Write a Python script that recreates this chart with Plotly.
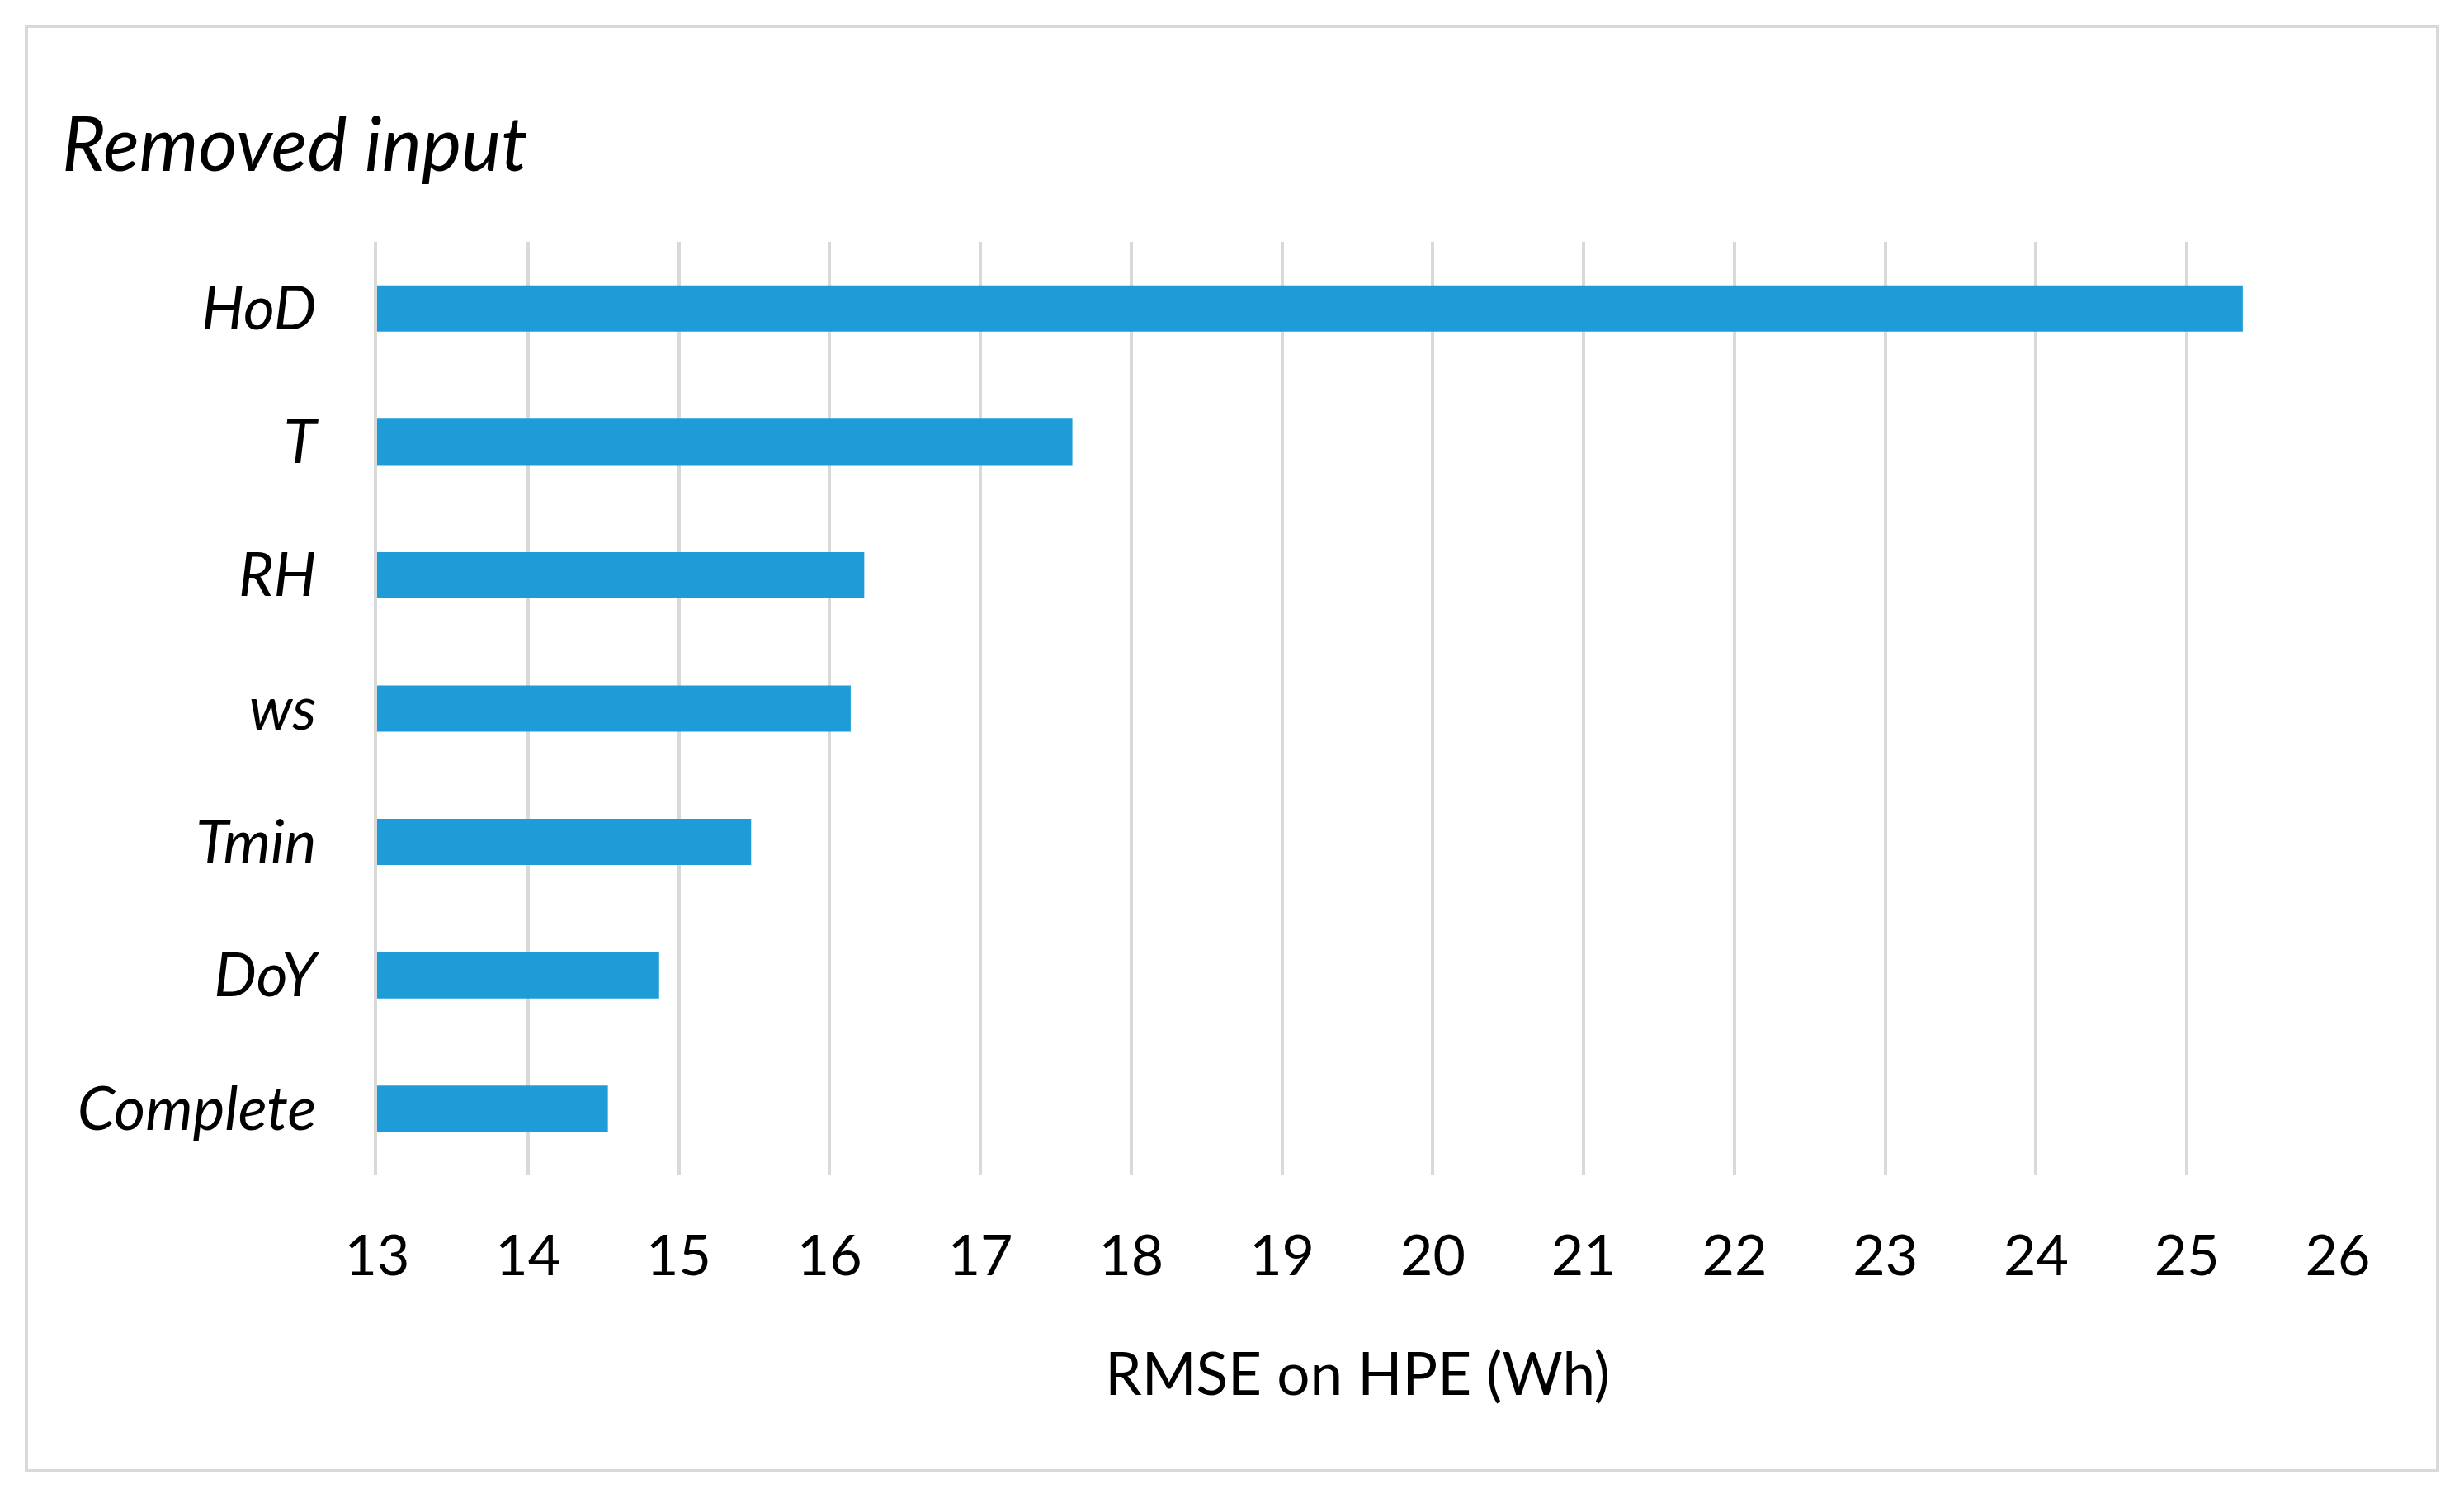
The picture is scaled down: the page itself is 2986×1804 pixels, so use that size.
import plotly.graph_objects as go

# ---- data ----
categories = ["HoD", "T", "RH", "ws", "Tmin", "DoY", "Complete"]
rmse_values = [25.37, 17.61, 16.23, 16.14, 15.48, 14.87, 14.53]
x_tick_values = list(range(13, 27))
x_tick_labels = [str(v) for v in x_tick_values]
chart_title = "Removed input"
x_axis_title = "RMSE on HPE (Wh)"

# ---- layout constants (pixels) ----
W, H = 2986, 1804
PL, PR, PT, PB = 457, 2833, 293, 1424   # plot area
BORDER = (32, 32, 2954, 1782)            # left, top, right, bottom
FONT = "Lato"
BAR_COLOR = "#1E9CD8"
GRID_COLOR = "#D9D9D9"

pw, ph = PR - PL, PB - PT

def px_x(x):
    return (x - PL) / pw

def px_y(y):
    return (PB - y) / ph

fig = go.Figure(
    go.Bar(
        x=rmse_values,
        y=categories,
        orientation="h",
        marker=dict(color=BAR_COLOR, line=dict(width=0)),
        hoverinfo="x+y",
    )
)

fig.update_layout(
    width=W,
    height=H,
    margin=dict(l=PL, r=W - PR, t=PT, b=H - PB, pad=0),
    paper_bgcolor="white",
    plot_bgcolor="white",
    bargap=0.653,
    showlegend=False,
    font=dict(family=FONT, color="black"),
    xaxis=dict(
        range=[13, 26],
        tickmode="array",
        tickvals=x_tick_values,
        ticktext=x_tick_labels,
        showgrid=True,
        gridcolor=GRID_COLOR,
        gridwidth=4,
        zeroline=False,
        showline=False,
        ticks="",
        ticklabelstandoff=52,
        tickfont=dict(family=FONT, size=68, color="black"),
        title=dict(text=x_axis_title, font=dict(family=FONT, size=71, color="black"), standoff=82),
    ),
    yaxis=dict(
        categoryorder="array",
        categoryarray=categories[::-1],
        showgrid=False,
        zeroline=False,
        showline=True,
        linecolor=GRID_COLOR,
        linewidth=4,
        ticks="",
        ticklabelstandoff=55,
        tickfont=dict(family=FONT, size=73, color="black", style="italic"),
    ),
    annotations=[
        dict(
            text=chart_title,
            xref="paper", yref="paper",
            x=px_x(73), y=px_y(172),
            xanchor="left", yanchor="middle",
            showarrow=False,
            font=dict(family=FONT, size=91, color="black", style="italic"),
        )
    ],
    shapes=[
        dict(
            type="rect",
            xref="paper", yref="paper",
            x0=px_x(BORDER[0]), x1=px_x(BORDER[2]),
            y0=px_y(BORDER[3]), y1=px_y(BORDER[1]),
            line=dict(color=GRID_COLOR, width=4),
            fillcolor="rgba(0,0,0,0)",
            layer="below",
        )
    ],
)

fig.write_html(
    "out.html",
    config={"displayModeBar": False},
    post_script="document.body.style.margin='0';document.body.style.overflow='hidden';",
)
